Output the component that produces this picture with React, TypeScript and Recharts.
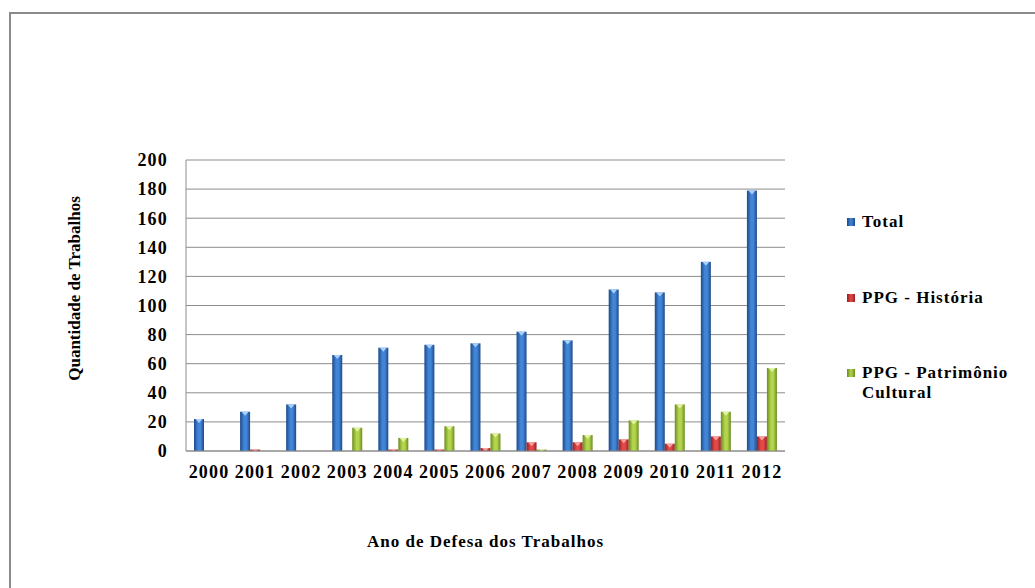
import React from "react";
import { BarChart, Bar, XAxis, YAxis, CartesianGrid, Legend } from "recharts";

// Defended theses/dissertations per year
const years = ["2000", "2001", "2002", "2003", "2004", "2005", "2006", "2007", "2008", "2009", "2010", "2011", "2012"];
const total = [22, 27, 32, 66, 71, 73, 74, 82, 76, 111, 109, 130, 179];
const ppgHistoria = [0, 1, 0, 0, 1, 1, 2, 6, 6, 8, 5, 10, 10];
const ppgPatrimonio = [0, 0, 0, 16, 9, 17, 12, 1, 11, 21, 32, 27, 57];
const yTicks = [0, 20, 40, 60, 80, 100, 120, 140, 160, 180, 200];

const seriesNames = ["Total", "PPG - História", "PPG - Patrimônio Cultural"];

const data = years.map((year, i) => ({
  year,
  total: total[i],
  historia: ppgHistoria[i],
  patrimonio: ppgPatrimonio[i],
}));

const FONT = '"Liberation Serif", "Times New Roman", serif';

const palette = {
  total: { id: "gTotal", edge: "#1c4a8a", mid: "#4285d6", tip: "#a9d0fb" },
  historia: { id: "gHist", edge: "#9a1f20", mid: "#e24a48", tip: "#f7a3a0" },
  patrimonio: { id: "gPat", edge: "#6a8c20", mid: "#b3d44c", tip: "#e2f3a6" },
};

type Pal = { id: string; edge: string; mid: string; tip: string };

// Cylinder-like bar with a light notch at the top
const glossShape = (pal: Pal) => (props: any) => {
  const { x, y, width, height } = props;
  if (!height || height <= 0) return <g />;
  const tipH = Math.min(4, height);
  return (
    <g>
      <rect x={x} y={y} width={width} height={height} fill={`url(#${pal.id})`} />
      <polygon
        points={`${x + 1.5},${y} ${x + width - 1.5},${y} ${x + width / 2},${y + tipH}`}
        fill={pal.tip}
      />
    </g>
  );
};

const gradient = (pal: Pal) => (
  <linearGradient id={pal.id} x1="0" y1="0" x2="1" y2="0">
    <stop offset="0%" stopColor={pal.edge} />
    <stop offset="40%" stopColor={pal.mid} />
    <stop offset="65%" stopColor={pal.mid} />
    <stop offset="100%" stopColor={pal.edge} />
  </linearGradient>
);

const legendItems = [
  { pal: palette.total, lines: [seriesNames[0]], top: 12 },
  { pal: palette.historia, lines: [seriesNames[1]], top: 88 },
  { pal: palette.patrimonio, lines: ["PPG - Patrimônio", "Cultural"], top: 163 },
];

const renderLegend = () => (
  <div style={{ position: "relative", width: 190, height: 220, fontFamily: FONT }}>
    {legendItems.map((it, i) => (
      <div key={i} style={{ position: "absolute", left: 0, top: it.top }}>
        <div
          style={{
            position: "absolute",
            left: 2,
            top: 6,
            width: 8,
            height: 8,
            background: `linear-gradient(to right, ${it.pal.edge}, ${it.pal.mid}, ${it.pal.edge})`,
          }}
        />
        <div
          style={{
            position: "absolute",
            left: 17,
            top: 0,
            whiteSpace: "nowrap",
            fontSize: 17,
            fontWeight: "bold",
            letterSpacing: 1,
            lineHeight: "20px",
            color: "#000",
          }}
        >
          {it.lines.map((l, j) => (
            <div key={j}>{l}</div>
          ))}
        </div>
      </div>
    ))}
  </div>
);

const yTitle = (props: any) => {
  const vb = props.viewBox || {};
  const cx = vb.x - 52;
  const cy = vb.y + vb.height / 2 - 17;
  return (
    <text
      x={cx}
      y={cy}
      transform={`rotate(-90 ${cx} ${cy})`}
      textAnchor="middle"
      dominantBaseline="central"
      fontFamily={FONT}
      fontSize={17}
      fontWeight="bold"
      fill="#000"
    >
      Quantidade de Trabalhos
    </text>
  );
};

const xTitle = (props: any) => {
  const vb = props.viewBox || {};
  const cx = vb.x + vb.width / 2;
  const cy = vb.y + 90;
  return (
    <text
      x={cx}
      y={cy}
      textAnchor="middle"
      dominantBaseline="central"
      fontFamily={FONT}
      fontSize={17}
      fontWeight="bold"
      letterSpacing={1}
      fill="#000"
    >
      Ano de Defesa dos Trabalhos
    </text>
  );
};

const tickStyle = { fontFamily: FONT, fontSize: 18, fontWeight: "bold", fill: "#000", letterSpacing: 1.2 };

export default function App() {
  return (
    <div style={{ position: "absolute", left: 0, top: 0, width: 1035, height: 588, background: "#fff" }}>
      <div
        style={{
          position: "absolute",
          left: 9,
          top: 12,
          right: 0,
          bottom: 0,
          borderTop: "2px solid #8a8a8a",
          borderLeft: "2px solid #8a8a8a",
        }}
      />
      <div style={{ position: "absolute", left: 0, top: 0 }}>
        <BarChart
          width={1035}
          height={588}
          data={data}
          margin={{ top: 160, right: 60, bottom: 97, left: 126 }}
          barGap={0}
          barSize={10}
        >
          <defs>
            {gradient(palette.total)}
            {gradient(palette.historia)}
            {gradient(palette.patrimonio)}
          </defs>
          <CartesianGrid vertical={false} stroke="#8c8c8c" strokeWidth={1} />
          <XAxis
            dataKey="year"
            height={40}
            tickLine={false}
            axisLine={{ stroke: "#8c8c8c" }}
            tick={tickStyle}
            tickMargin={8}
            interval={0}
            label={{ content: xTitle }}
          />
          <YAxis
            width={60}
            domain={[0, 200]}
            ticks={yTicks}
            tickLine={false}
            axisLine={{ stroke: "#8c8c8c" }}
            tick={tickStyle}
            tickMargin={12}
            interval={0}
            label={{ content: yTitle }}
          />
          <Legend
            layout="vertical"
            align="right"
            verticalAlign="top"
            content={renderLegend}
            wrapperStyle={{ left: 845, top: 200, width: 190, height: 220 }}
          />
          <Bar dataKey="total" name={seriesNames[0]} fill={palette.total.mid} shape={glossShape(palette.total)} isAnimationActive={false} />
          <Bar dataKey="historia" name={seriesNames[1]} fill={palette.historia.mid} shape={glossShape(palette.historia)} isAnimationActive={false} />
          <Bar dataKey="patrimonio" name={seriesNames[2]} fill={palette.patrimonio.mid} shape={glossShape(palette.patrimonio)} isAnimationActive={false} />
        </BarChart>
      </div>
    </div>
  );
}
